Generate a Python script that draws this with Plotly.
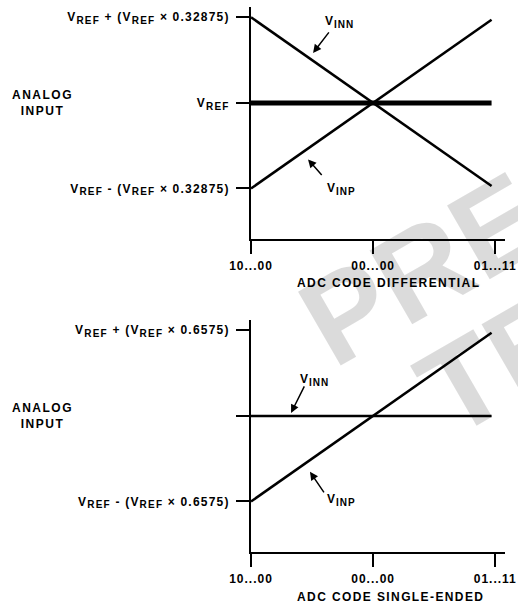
import plotly.graph_objects as go

# adc code axis: 10...00 = -1, 00...00 = 0, 01...11 = +1
code_x = [-1.0, 0.0, 0.97]
code_ticks = [-1, 0, 1]
code_labels = ["10...00", "00...00", "01...11"]

# differential mode (V relative to VREF, in units of the full swing)
diff_vref = [0.0, 0.0, 0.0]
diff_vinn = [1.0, 0.0, -0.97]
diff_vinp = [-1.0, 0.0, 0.97]

# single-ended mode
se_vinn = [0.0, 0.0, 0.0]
se_vinp = [-1.0, 0.0, 0.97]

v_ticks = [-1, 0, 1]
VR = "V<sub><span style='font-size:10px'>REF</span></sub>"
diff_labels = [VR + " - (" + VR + " × 0.32875)", VR, VR + " + (" + VR + " × 0.32875)"]
se_labels = [VR + " - (" + VR + " × 0.6575)", "", VR + " + (" + VR + " × 0.6575)"]


def sp(s, ls=1.2):
    return "<span style='letter-spacing:%.1fpx'>%s</span>" % (ls, s)


W, H = 518, 607
FONT = dict(family="Liberation Sans, Arial, sans-serif", size=12, color="black", weight="bold")

fig = go.Figure()

# top chart
fig.add_trace(go.Scatter(x=code_x, y=diff_vref, mode="lines", line=dict(color="black", width=5), xaxis="x", yaxis="y"))
fig.add_trace(go.Scatter(x=code_x, y=diff_vinn, mode="lines", line=dict(color="black", width=2.5), xaxis="x", yaxis="y"))
fig.add_trace(go.Scatter(x=code_x, y=diff_vinp, mode="lines", line=dict(color="black", width=2.5), xaxis="x", yaxis="y"))

# bottom chart
fig.add_trace(go.Scatter(x=code_x, y=se_vinn, mode="lines", line=dict(color="black", width=2.5), xaxis="x2", yaxis="y2"))
fig.add_trace(go.Scatter(x=code_x, y=se_vinp, mode="lines", line=dict(color="black", width=2.5), xaxis="x2", yaxis="y2"))

xdom = [251 / W, 505 / W]
ax_common = dict(showline=True, linewidth=2, linecolor="black", ticks="outside", ticklen=13,
                 tickwidth=2, tickcolor="black", showgrid=False, zeroline=False,
                 tickfont=FONT, fixedrange=True, automargin=False)

fig.update_layout(
    width=W, height=H,
    margin=dict(l=0, r=0, t=0, b=0),
    paper_bgcolor="white", plot_bgcolor="white",
    showlegend=False,
    xaxis=dict(domain=xdom, range=[-1, 1.08], anchor="y", tickvals=code_ticks,
               ticktext=[sp(t, 1.0) for t in code_labels], ticklabelstandoff=2, **ax_common),
    yaxis=dict(domain=[1 - 239 / H, 1 - 7 / H], range=[-1.59, 1.12], anchor="x",
               tickvals=v_ticks, ticktext=[sp(t) for t in diff_labels], ticklabelstandoff=4, **ax_common),
    xaxis2=dict(domain=xdom, range=[-1, 1.08], anchor="y2", tickvals=code_ticks,
                ticktext=[sp(t, 1.0) for t in code_labels], ticklabelstandoff=2, **ax_common),
    yaxis2=dict(domain=[1 - 552 / H, 1 - 320 / H], range=[-1.59, 1.12], anchor="x2",
                tickvals=v_ticks, ticktext=[sp(t) for t in se_labels], ticklabelstandoff=4, **ax_common),
)

ann = []
# watermark, drawn as translucent black so lines stay black
wm = dict(xref="paper", yref="paper", showarrow=False, textangle=-30, xanchor="center", yanchor="middle",
          font=dict(family="Liberation Sans, Arial, sans-serif", size=124, color="rgba(0,0,0,0.14)", weight="bold"))
ann.append(dict(text="PRELIMINARY", x=680 / W, y=1 - 120 / H, **wm))
ann.append(dict(text="TECHNICAL", x=740 / W, y=1 - 224 / H, **wm))

for yr in ["y", "y2"]:
    ann.append(dict(text=sp("ANALOG<br>INPUT", 1.5), xref="paper", yref=yr, x=42 / W, y=0,
                    showarrow=False, font=FONT, xanchor="center", yanchor="middle"))

ann.append(dict(text=sp("ADC CODE DIFFERENTIAL", 1.4), xref="paper", yref="paper", x=388 / W, y=1 - 283 / H,
                showarrow=False, font=FONT, xanchor="center", yanchor="middle"))
ann.append(dict(text=sp("ADC CODE SINGLE-ENDED", 1.4), xref="paper", yref="paper", x=390 / W, y=1 - 597 / H,
                showarrow=False, font=FONT, xanchor="center", yanchor="middle"))

VINN = "V<sub><span style='font-size:10px'>INN</span></sub>"
VINP = "V<sub><span style='font-size:10px'>INP</span></sub>"
arrow = dict(text="", showarrow=True, arrowhead=2, arrowsize=1.1, arrowwidth=1.5, arrowcolor="black")

# top labels
ann.append(dict(text=sp(VINN, 1.0), x=-0.279, y=0.94, xref="x", yref="y", showarrow=False, font=FONT))
ann.append(dict(x=-0.492, y=0.584, ax=17, ay=-22, xref="x", yref="y", **arrow))
ann.append(dict(text=sp(VINP, 1.0), x=-0.255, y=-1.01, xref="x", yref="y", showarrow=False, font=FONT))
ann.append(dict(x=-0.533, y=-0.66, ax=15, ay=17, xref="x", yref="y", **arrow))

# bottom labels
ann.append(dict(text=sp(VINN, 1.0), x=-0.484, y=0.42, xref="x2", yref="y2", showarrow=False, font=FONT))
ann.append(dict(x=-0.672, y=0.035, ax=14, ay=-28, xref="x2", yref="y2", **arrow))
ann.append(dict(text=sp(VINP, 1.0), x=-0.255, y=-0.98, xref="x2", yref="y2", showarrow=False, font=FONT))
ann.append(dict(x=-0.517, y=-0.654, ax=15, ay=22, xref="x2", yref="y2", **arrow))

fig.update_layout(annotations=ann)

# page body has an 8px default margin; drop it so the figure fills the window
fig.write_html("out.html", config={"displayModeBar": False},
               post_script="document.body.style.margin = '0';")
